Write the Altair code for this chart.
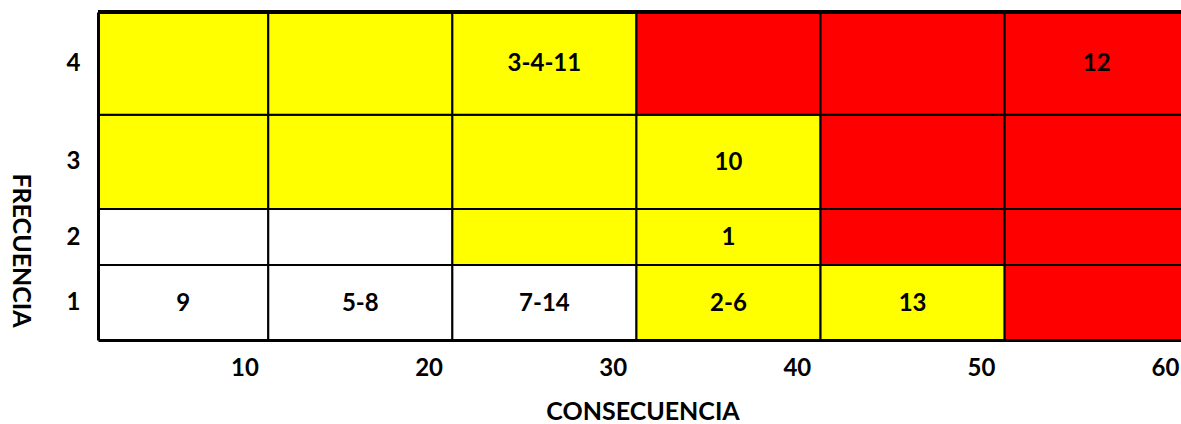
import altair as alt
import pandas as pd

# ---- data -------------------------------------------------------------
consecuencia = [10, 20, 30, 40, 50, 60]
frecuencia = [1, 2, 3, 4]

# risk level of each cell, one list per frequency (1 = bottom row)
nivel = [
    ["bajo", "bajo", "bajo", "medio", "medio", "alto"],
    ["bajo", "bajo", "medio", "medio", "alto", "alto"],
    ["medio", "medio", "medio", "medio", "alto", "alto"],
    ["medio", "medio", "medio", "alto", "alto", "alto"],
]

# hazard ids placed in each cell
peligros = [
    ["9", "5-8", "7-14", "2-6", "13", ""],
    ["", "", "", "1", "", ""],
    ["", "", "", "10", "", ""],
    ["", "", "3-4-11", "", "", "12"],
]

niveles = ["bajo", "medio", "alto"]
colores = ["#FFFFFF", "#FFFF00", "#FF0000"]

# ---- layout -----------------------------------------------------------
PLOT_W = 1083
PLOT_H = 328
ROW_H = [75, 56, 94.3, 102.7]      # row heights, frequency 1..4
X_MIN, X_MAX = 2.04, 60.87         # visible consequence range
SHIFT = 1.29                       # a cell's right edge lies this far past its tick
FONT = "Lato"
FS = 24
TFS = 25

rows = []
bottoms = []
acc = 0.0
for fi, f in enumerate(frecuencia):
    y0, y1 = acc, acc + ROW_H[fi]
    bottoms.append(y0)
    acc = y1
    for ci, c in enumerate(consecuencia):
        x0, x1 = c - 10 + SHIFT, c + SHIFT
        rows.append({
            "consecuencia": c,
            "frecuencia": f,
            "x0": x0, "x1": x1,
            "y0": y0, "y1": y1,
            "xt": (max(x0, X_MIN) + x1) / 2,
            "yt": (y0 + y1) / 2,
            "nivel": nivel[fi][ci],
            "peligros": peligros[fi][ci],
        })
df = pd.DataFrame(rows)

centers = [b + h / 2 for b, h in zip(bottoms, ROW_H)]
# map each row centre back to its frequency label
label_expr = "'" + str(frecuencia[-1]) + "'"
for fi in range(len(frecuencia) - 2, -1, -1):
    label_expr = f"datum.value < {bottoms[fi + 1]} ? '{frecuencia[fi]}' : " + label_expr

x_scale = alt.Scale(domain=[X_MIN, X_MAX], nice=False, zero=False)
y_scale = alt.Scale(domain=[0, PLOT_H], nice=False, zero=False)

x_axis = alt.Axis(
    values=consecuencia, title="CONSECUENCIA", grid=False, ticks=False,
    domainColor="black", domainWidth=3, labelPadding=16,
    labelFont=FONT, labelFontSize=FS, labelFontWeight="bold", labelColor="black",
    titleFont=FONT, titleFontSize=TFS, titleFontWeight="bold", titleColor="black",
    titleX=544.5, titleY=79, titleBaseline="alphabetic", zindex=1,
)
y_axis = alt.Axis(
    values=centers, labelExpr=label_expr, title="FRECUENCIA", grid=False, ticks=False,
    domainColor="black", domainWidth=3, labelPadding=18,
    labelFont=FONT, labelFontSize=FS, labelFontWeight="bold", labelColor="black",
    titleFont=FONT, titleFontSize=TFS, titleFontWeight="bold", titleColor="black",
    titleAngle=90, titleX=-78, titleY=238, titleAlign="center",
    titleBaseline="middle", zindex=1,
)

base = alt.Chart(df)

cells = base.mark_rect(stroke="black", strokeWidth=2, clip=True).encode(
    x=alt.X("x0:Q", scale=x_scale, axis=x_axis),
    x2="x1:Q",
    y=alt.Y("y0:Q", scale=y_scale, axis=y_axis),
    y2="y1:Q",
    color=alt.Color("nivel:N", scale=alt.Scale(domain=niveles, range=colores), legend=None),
)

texts = base.mark_text(font=FONT, fontSize=FS, fontWeight="bold", color="black",
                       baseline="middle", dy=1).encode(
    x=alt.X("xt:Q", scale=x_scale),
    y=alt.Y("yt:Q", scale=y_scale),
    text="peligros:N",
)

top_edge = alt.Chart(df).mark_rule(color="black", strokeWidth=3).encode(
    x=alt.value(0), x2=alt.value(PLOT_W), y=alt.value(0)
)

chart = alt.layer(cells, texts, top_edge).properties(
    width=PLOT_W,
    height=PLOT_H,
    padding={"left": 98, "top": 12, "right": 0, "bottom": 84},
    autosize=alt.AutoSizeParams(type="none"),
).configure_view(strokeWidth=0)

chart.save("out.html", embed_options={"renderer": "svg", "actions": False})
